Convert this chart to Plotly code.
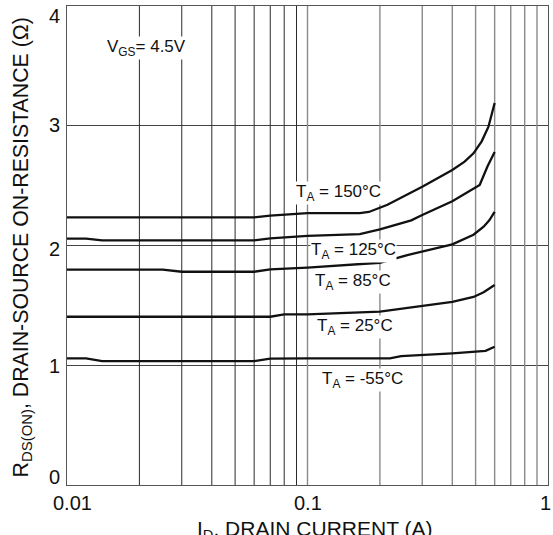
import math
import plotly.graph_objects as go

# ---- data ----
x_150 = [0.01, 0.06, 0.07, 0.1, 0.165, 0.18, 0.215, 0.3, 0.4, 0.45, 0.49, 0.53, 0.565, 0.6]
y_150 = [2.235, 2.235, 2.25, 2.27, 2.27, 2.28, 2.34, 2.49, 2.63, 2.70, 2.77, 2.87, 2.99, 3.19]

x_125 = [0.01, 0.012, 0.014, 0.06, 0.07, 0.1, 0.165, 0.2, 0.27, 0.3, 0.4, 0.52, 0.56, 0.6]
y_125 = [2.057, 2.057, 2.043, 2.043, 2.06, 2.08, 2.095, 2.135, 2.21, 2.255, 2.37, 2.505, 2.66, 2.78]

x_85 = [0.01, 0.025, 0.03, 0.06, 0.07, 0.1, 0.2, 0.26, 0.4, 0.49, 0.54, 0.57, 0.6]
y_85 = [1.798, 1.798, 1.781, 1.781, 1.80, 1.815, 1.856, 1.92, 2.01, 2.09, 2.157, 2.21, 2.28]

x_25 = [0.01, 0.07, 0.08, 0.1, 0.2, 0.3, 0.4, 0.49, 0.54, 0.6]
y_25 = [1.405, 1.405, 1.425, 1.425, 1.447, 1.495, 1.53, 1.57, 1.61, 1.67]

x_m55 = [0.01, 0.012, 0.014, 0.06, 0.07, 0.1, 0.22, 0.245, 0.4, 0.52, 0.55, 0.6]
y_m55 = [1.058, 1.058, 1.035, 1.035, 1.055, 1.058, 1.058, 1.077, 1.10, 1.12, 1.12, 1.155]

series_labels = ["T<sub>A</sub> = 150°C", "T<sub>A</sub> = 125°C", "T<sub>A</sub> = 85°C",
                 "T<sub>A</sub> = 25°C", "T<sub>A</sub> = -55°C"]
label_x = [0.134, 0.155, 0.155, 0.158, 0.169]
label_y = [2.44, 1.954, 1.695, 1.32, 0.877]

x_tick_vals = [0.01, 0.1, 1]
x_tick_text = ["0.01", "0.1", "1"]
y_tick_vals = [0, 1, 2, 3, 4]
y_tick_text = ["0", "1", "2", "3", "4"]

grid_decade1 = [0.02, 0.03, 0.04, 0.05, 0.06, 0.07, 0.08, 0.09]
grid_decade2 = [0.1, 0.2, 0.3, 0.4, 0.5, 0.6, 0.7, 0.8, 0.9]

FONT = "Liberation Sans, Arial, sans-serif"
TXT = "#111111"

fig = go.Figure()

def vlines(vals):
    xs, ys = [], []
    for v in vals:
        xs += [v, v, None]
        ys += [0, 4, None]
    return xs, ys

gx, gy = vlines(grid_decade1)
fig.add_trace(go.Scatter(x=gx, y=gy, mode="lines", line=dict(color="#2a2a2a", width=1),
                         hoverinfo="skip", showlegend=False))
gx, gy = vlines(grid_decade2)
fig.add_trace(go.Scatter(x=gx, y=gy, mode="lines", line=dict(color="#8a8a8a", width=1.4),
                         hoverinfo="skip", showlegend=False))

for xs, ys in [(x_150, y_150), (x_125, y_125), (x_85, y_85), (x_25, y_25), (x_m55, y_m55)]:
    fig.add_trace(go.Scatter(x=xs, y=ys, mode="lines",
                             line=dict(color="#111111", width=2.3),
                             showlegend=False, hoverinfo="skip"))

for txt, lx, ly in zip(series_labels, label_x, label_y):
    fig.add_annotation(x=math.log10(lx), y=ly, xref="x", yref="y", text=txt,
                       showarrow=False, font=dict(family=FONT, size=17, color=TXT),
                       bgcolor="white", borderpad=0)

fig.add_annotation(x=math.log10(0.0214), y=3.65, xref="x", yref="y",
                   text="V<sub>GS</sub>= 4.5V", showarrow=False,
                   font=dict(family=FONT, size=17, color=TXT),
                   bgcolor="white", borderpad=0)

# tick labels (edge labels nudged inward as in the reference)
x_shift = {"0.01": 5, "0.1": 0, "1": -3}
for v, t in zip(x_tick_vals, x_tick_text):
    fig.add_annotation(x=math.log10(v), y=0, xref="x", yref="paper", text=t,
                       showarrow=False, yanchor="middle", yshift=-18, xshift=x_shift[t],
                       font=dict(family=FONT, size=20, color=TXT))
y_shift = {"0": 8, "1": -1, "2": -3, "3": 1, "4": -10}
for v, t in zip(y_tick_vals, y_tick_text):
    fig.add_annotation(x=0, y=v, xref="paper", yref="y", text=t, showarrow=False,
                       xanchor="right", yanchor="middle", xshift=-5, yshift=y_shift[t],
                       font=dict(family=FONT, size=20, color=TXT))

# axis titles
fig.add_annotation(x=-0.0936, y=0.496, xref="paper", yref="paper",
                   text="R<sub>DS(ON)</sub>, DRAIN-SOURCE ON-RESISTANCE (Ω)",
                   textangle=-90, showarrow=False, xanchor="center", yanchor="middle",
                   font=dict(family=FONT, size=21.3, color=TXT))
fig.add_annotation(x=0.514, y=-0.094, xref="paper", yref="paper",
                   text="I<sub>D</sub>, DRAIN CURRENT (A)", showarrow=False,
                   xanchor="center", yanchor="middle",
                   font=dict(family=FONT, size=21, color=TXT))

fig.update_layout(
    width=553, height=535,
    margin=dict(l=67, r=5, t=6, b=50),
    paper_bgcolor="white", plot_bgcolor="white",
    font=dict(family=FONT, color=TXT),
    showlegend=False,
)
fig.update_xaxes(type="log", range=[-2, 0], tickvals=x_tick_vals, showticklabels=False,
                 showgrid=False, zeroline=False, showline=True, mirror=True,
                 linecolor="#555555", linewidth=1.2, ticks="", automargin=False)
fig.update_yaxes(range=[0, 4], tickvals=y_tick_vals, showticklabels=False,
                 showgrid=True, gridcolor="#444444", gridwidth=1, zeroline=False,
                 showline=True, mirror=True, linecolor="#555555", linewidth=1.2,
                 ticks="", automargin=False)

fig.write_html("out.html", config={"displayModeBar": False},
               post_script="document.body.style.margin='0';document.body.style.overflow='hidden';")
